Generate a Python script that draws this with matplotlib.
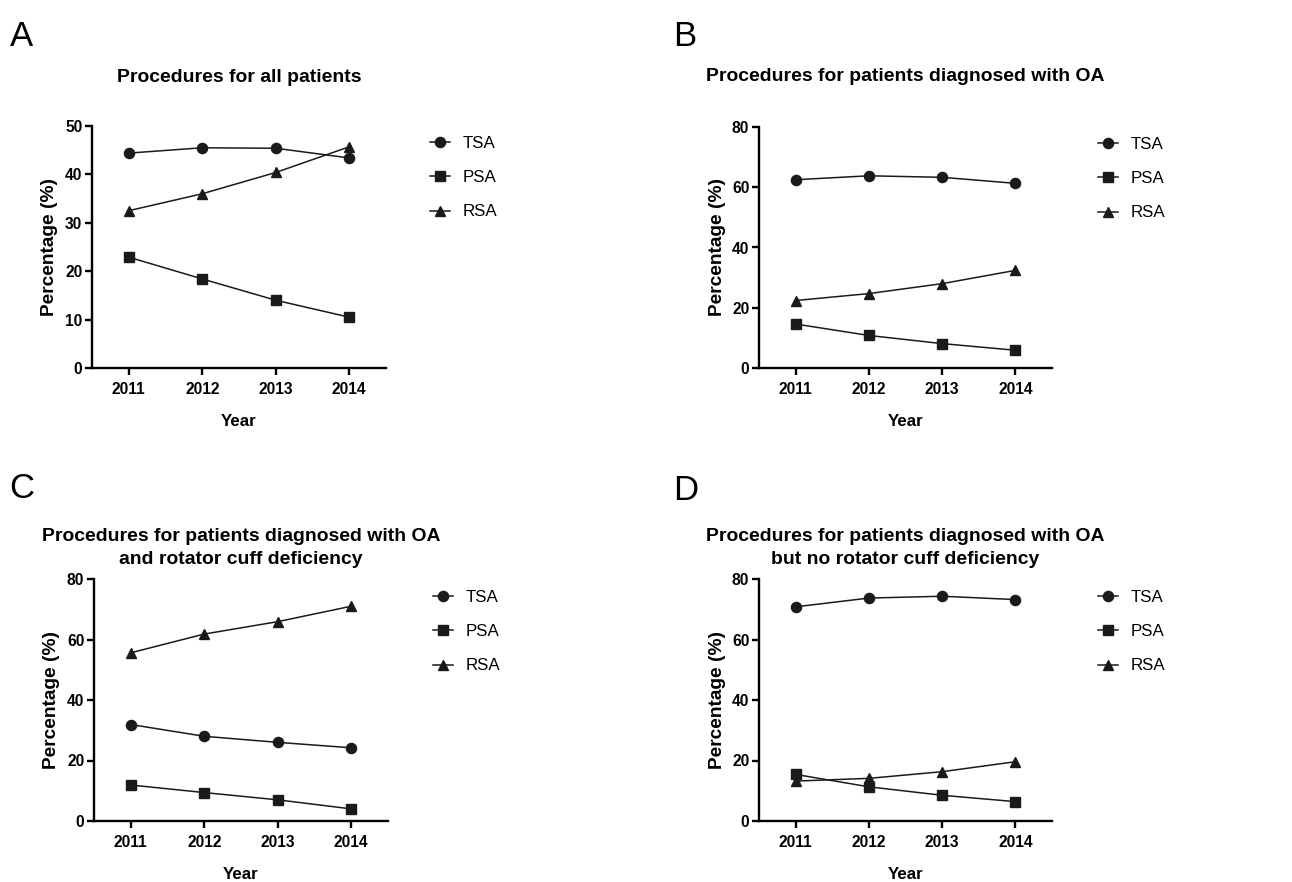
import matplotlib
matplotlib.use('Agg')
import matplotlib.pyplot as plt
from matplotlib import font_manager

years = [2011, 2012, 2013, 2014]
series_names = ['TSA', 'PSA', 'RSA']
series_markers = ['o', 's', '^']

# A - all patients
a_tsa = [44.4, 45.5, 45.4, 43.4]
a_psa = [22.9, 18.4, 14.0, 10.5]
a_rsa = [32.5, 36.0, 40.4, 45.7]

# B - OA
b_tsa = [62.5, 63.8, 63.3, 61.3]
b_psa = [14.6, 10.8, 8.1, 5.9]
b_rsa = [22.4, 24.7, 28.0, 32.4]

# C - OA and rotator cuff deficiency
c_tsa = [31.9, 28.0, 26.0, 24.2]
c_psa = [11.9, 9.4, 7.0, 4.0]
c_rsa = [55.6, 61.8, 65.9, 71.0]

# D - OA but no rotator cuff deficiency
d_tsa = [70.8, 73.7, 74.3, 73.2]
d_psa = [15.4, 11.3, 8.5, 6.4]
d_rsa = [13.2, 14.1, 16.3, 19.6]

titles = ['Procedures for all patients',
          'Procedures for patients diagnosed with OA',
          'Procedures for patients diagnosed with OA\nand rotator cuff deficiency',
          'Procedures for patients diagnosed with OA\nbut no rotator cuff deficiency']
letters = ['A', 'B', 'C', 'D']
ymax = [50, 80, 80, 80]
ystep = [10, 20, 20, 20]
data = [(a_tsa, a_psa, a_rsa), (b_tsa, b_psa, b_rsa),
        (c_tsa, c_psa, c_rsa), (d_tsa, d_psa, d_rsa)]

# the source image is squeezed sideways, so narrow font for horizontal text if there is one
try:
    font_manager.findfont('Liberation Sans Narrow', fallback_to_default=False)
    narrow = 'Liberation Sans Narrow'
    k = 1.0
except ValueError:
    narrow = 'Liberation Sans'
    k = 0.9
wide = 'Liberation Sans'

W, H = 1292, 882
fig = plt.figure(figsize=(W / 100, H / 100), dpi=100)

# pixel layout: (left, top, width, height), title centre, letter pos, legend pos
boxes = [(92, 126, 294, 242), (759, 127, 293, 241), (94, 579, 294, 242), (759, 579, 293, 242)]
title_y = [77, 77, 548, 548]
letter_xy = [(10, 36), (673, 36), (9, 489), (673, 490)]
legend_xy = [(430, 136), (1098, 137), (433, 590), (1098, 590)]

for i in range(4):
    l, t, w, h = boxes[i]
    ax = fig.add_axes([l / W, 1 - (t + h) / H, w / W, h / H])
    for j in range(3):
        ax.plot(years, data[i][j], color='#1a1a1a', lw=1.1, marker=series_markers[j],
                ms=7.3 if j != 1 else 6.6, label=series_names[j])
    ax.set_xlim(2010.5, 2014.5)
    ax.set_ylim(0, ymax[i])
    ax.set_xticks(years)
    ax.set_yticks(range(0, ymax[i] + 1, ystep[i]))
    for s in ['top', 'right']:
        ax.spines[s].set_visible(False)
    for s in ['left', 'bottom']:
        ax.spines[s].set_linewidth(1.7)
    ax.tick_params(axis='both', width=1.7, length=5)
    ax.tick_params(axis='x', pad=5)
    ax.tick_params(axis='y', pad=2)
    for lab in ax.get_xticklabels() + ax.get_yticklabels():
        lab.set_fontfamily(narrow)
        lab.set_fontweight('bold')
        lab.set_fontsize(12.5 * k)
    ax.set_xlabel('Year', fontfamily=narrow, fontweight='bold', fontsize=13.5 * k)
    ax.set_ylabel('Percentage (%)', fontfamily=wide, fontweight='bold', fontsize=13.8)
    ax.xaxis.set_label_coords(0.5, -0.22)
    ax.xaxis.label.set_va('center')
    ax.yaxis.set_label_coords(-0.143, 0.5)
    ax.yaxis.label.set_va('center')

    ty = 1 + (t - title_y[i]) / h
    ax.text(0.5, ty, titles[i], transform=ax.transAxes, ha='center', va='center',
            fontfamily=narrow, fontweight='bold', fontsize=15.5 * k, linespacing=1.5)

    lx, ly = letter_xy[i]
    fig.text(lx / W, 1 - ly / H, letters[i], ha='left', va='center',
             fontfamily=narrow, fontsize=25)

    gx, gy = legend_xy[i]
    ax.legend(loc='upper left', bbox_to_anchor=(gx / W, 1 - gy / H),
              bbox_transform=fig.transFigure, frameon=False, borderpad=0,
              borderaxespad=0, handlelength=1.2, handletextpad=0.75,
              labelspacing=1.14, numpoints=1,
              prop={'family': narrow, 'size': 13.5 * k})

fig.savefig('out.png', dpi=100)
